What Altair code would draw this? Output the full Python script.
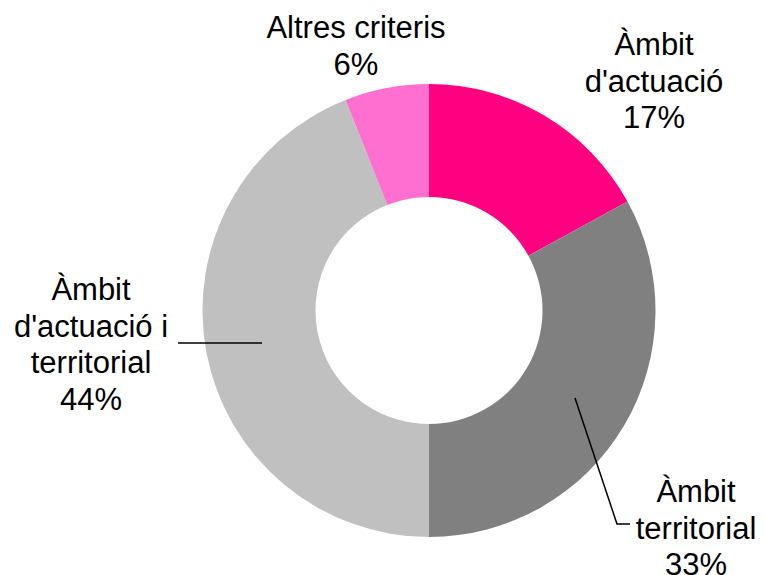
import altair as alt
import pandas as pd

# ---- data ----
categories = ["Àmbit d'actuació", "Àmbit territorial", "Àmbit d'actuació i territorial", "Altres criteris"]
values = [17, 33, 44, 6]
colors = ["#FF0080", "#808080", "#C0C0C0", "#FF6FCF"]
label_texts = ["Àmbit\nd'actuació\n17%", "Àmbit\nterritorial\n33%",
               "Àmbit\nd'actuació i\nterritorial\n44%", "Altres criteris\n6%"]

# ---- layout (chart pixel coordinates, page offset 8px) ----
OFF = 8
CX, CY = 429 - OFF, 310.5 - OFF
R_OUT, R_IN = 226.5, 113.5
label_x = [654 - OFF, 696 - OFF, 91 - OFF, 356 - OFF]
label_y = [55 - OFF, 502 - OFF, 300 - OFF, 38 - OFF]
leader_pts = [
    # (group, order, x, y)
    (0, 0, 178, 343), (0, 1, 262, 343),
    (1, 0, 575, 398), (1, 1, 617, 524), (1, 2, 630, 524),
]

W, H = 765 - 2 * OFF, 575 - OFF

df = pd.DataFrame({
    "cat": categories,
    "val": values,
    "order": list(range(len(categories))),
})

lab = pd.DataFrame({"text": label_texts, "x": label_x, "y": label_y})
lead = pd.DataFrame({
    "g": [p[0] for p in leader_pts],
    "o": [p[1] for p in leader_pts],
    "x": [p[2] - OFF for p in leader_pts],
    "y": [p[3] - OFF for p in leader_pts],
})

donut = alt.Chart(df).mark_arc(innerRadius=R_IN, outerRadius=R_OUT, stroke=None).encode(
    theta=alt.Theta("val:Q", stack=True),
    order=alt.Order("order:Q"),
    color=alt.Color("cat:N", scale=alt.Scale(domain=categories, range=colors), legend=None),
    x=alt.value(CX),
    y=alt.value(CY),
)

labels = alt.Chart(lab).mark_text(
    font="Liberation Sans", fontSize=31, lineBreak="\n", lineHeight=36.5,
    align="center", baseline="alphabetic", color="black",
).encode(
    x=alt.X("x:Q", scale=None),
    y=alt.Y("y:Q", scale=None),
    text="text:N",
)

leaders = alt.Chart(lead).mark_line(color="black", strokeWidth=1.5).encode(
    x=alt.X("x:Q", scale=None),
    y=alt.Y("y:Q", scale=None),
    detail="g:N",
    order="o:Q",
)

chart = alt.layer(donut, leaders, labels).properties(
    width=W, height=H, padding=0, autosize="none",
).configure_view(stroke=None)

chart.save("out.html", embed_options={"renderer": "svg", "actions": False})
